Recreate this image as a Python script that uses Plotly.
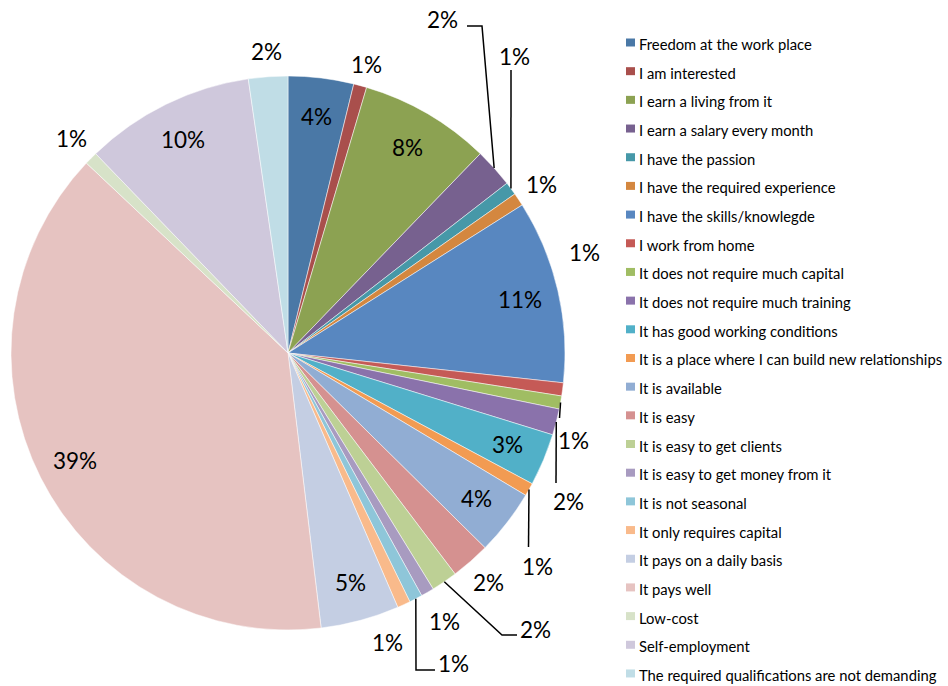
import math
import plotly.graph_objects as go

# Survey answers (number of respondents per reason)
categories = [
    "Freedom at the work place",
    "I am interested",
    "I earn a living from it",
    "I earn a salary every month",
    "I have the passion",
    "I have the required experience",
    "I have the skills/knowlegde",
    "I work from home",
    "It does not require much capital",
    "It does not require much training",
    "It has good working conditions",
    "It is a place where I can build new relationships",
    "It is available",
    "It is easy",
    "It is easy to get clients",
    "It is easy to get money from it",
    "It is not seasonal",
    "It only requires capital",
    "It pays on a daily basis",
    "It pays well",
    "Low-cost",
    "Self-employment",
    "The required qualifications are not demanding",
]
counts = [5, 1, 10, 3, 1, 1, 14, 1, 1, 2, 4, 1, 5, 3, 2, 1, 1, 1, 6, 51, 1, 13, 3]

colors = [
    "#4A78A6", "#A94F4C", "#8CA252", "#77618F", "#4698A8", "#D4873F",
    "#5887C0", "#C55A56", "#A0BD63", "#8A72AB", "#51B0C8", "#F29B52",
    "#91ADD3", "#D59190", "#BDD095", "#A89BC0", "#8EC6D9", "#F9BA8B",
    "#C4CEE3", "#E6C3C1", "#D7E2C8", "#CFC8DC", "#C0DDE6",
]

# ---- page geometry (pixels) ----
W, H = 948, 686
CX, CY, R = 288, 353, 277
FONT = "Lato, 'Open Sans', sans-serif"


def px(x, y):
    return x / W, 1 - y / H


# Label placement per slice: "in" = inside the slice, ("out", factor) = just
# outside the rim, otherwise an explicit spot with optional leader-line bends.
placement = [
    "in", ("out", 1.08), "in",
    {"pos": (442.5, 19.5), "path": [(482, 26), (467, 26)]},
    {"pos": (514.5, 56.5), "path": [(511, 70)]},
    ("out", 1.1), "in",
    {"pos": (584.5, 252.5)},
    {"pos": (573, 440), "path": [(559.5, 418)]},
    {"pos": (568, 501), "path": [(556, 483)]},
    "in",
    {"pos": (537, 566), "path": [(528.5, 547)]},
    "in", ("out", 1.1),
    {"pos": (535, 629), "path": [(502, 635), (517, 635)]},
    ("out", 1.12),
    {"pos": (453, 663), "path": [(416, 670), (435, 670)]},
    {"pos": (387, 642)},
    "in", "in", ("out", 1.1), "in", ("out", 1.09),
]

total = sum(counts)

fig = go.Figure(
    go.Pie(
        labels=categories,
        values=counts,
        sort=False,
        direction="clockwise",
        rotation=0,
        marker=dict(colors=colors, line=dict(color="white", width=0.5)),
        textinfo="none",
        hoverinfo="label+value+percent",
        showlegend=False,
        domain=dict(
            x=[(CX - R) / W, (CX + R) / W],
            y=[1 - (CY + R) / H, 1 - (CY - R) / H],
        ),
    )
)

annotations = []
shapes = []

cum = 0
for i, v in enumerate(counts):
    mid = (cum + v / 2) / total * 2 * math.pi
    cum += v
    sx, sy = math.sin(mid), -math.cos(mid)
    text = f"{round(100 * v / total)}%"
    p = placement[i]
    if p == "in":
        lx, ly = CX + 0.86 * R * sx, CY + 0.86 * R * sy
    elif isinstance(p, tuple):
        lx, ly = CX + p[1] * R * sx, CY + p[1] * R * sy
    else:
        lx, ly = p["pos"]
        if "path" in p:
            pts = [(CX + R * sx, CY + R * sy)] + p["path"]
            d = "M " + " L ".join(
                f"{px(x, y)[0]:.5f},{px(x, y)[1]:.5f}" for x, y in pts
            )
            shapes.append(dict(type="path", xref="paper", yref="paper", path=d,
                               line=dict(color="black", width=1.5)))
    ax_, ay_ = px(lx, ly)
    annotations.append(dict(
        x=ax_, y=ay_, xref="paper", yref="paper", text=text, showarrow=False,
        xanchor="center", yanchor="middle",
        font=dict(family=FONT, size=22.5, color="black"),
    ))

# ---- legend: colour squares with category names ----
LEG_X, LEG_Y0, LEG_DY = 626, 44, 28.68
for i, name in enumerate(categories):
    y = LEG_Y0 + i * LEG_DY
    x0, y0 = px(LEG_X, y - 5.5)
    x1, y1 = px(LEG_X + 9, y + 2.5)
    shapes.append(dict(type="rect", xref="paper", yref="paper",
                       x0=x0, x1=x1, y0=y1, y1=y0,
                       fillcolor=colors[i], line=dict(width=0)))
    tx, ty = px(LEG_X + 11, y)
    annotations.append(dict(
        x=tx, y=ty, xref="paper", yref="paper", text=name, showarrow=False,
        xanchor="left", yanchor="middle",
        font=dict(family=FONT, size=14.8, color="black"),
    ))

fig.update_layout(
    width=W, height=H,
    margin=dict(l=0, r=0, t=0, b=0),
    paper_bgcolor="white",
    plot_bgcolor="white",
    annotations=annotations,
    shapes=shapes,
)

fig.write_html("out.html")
